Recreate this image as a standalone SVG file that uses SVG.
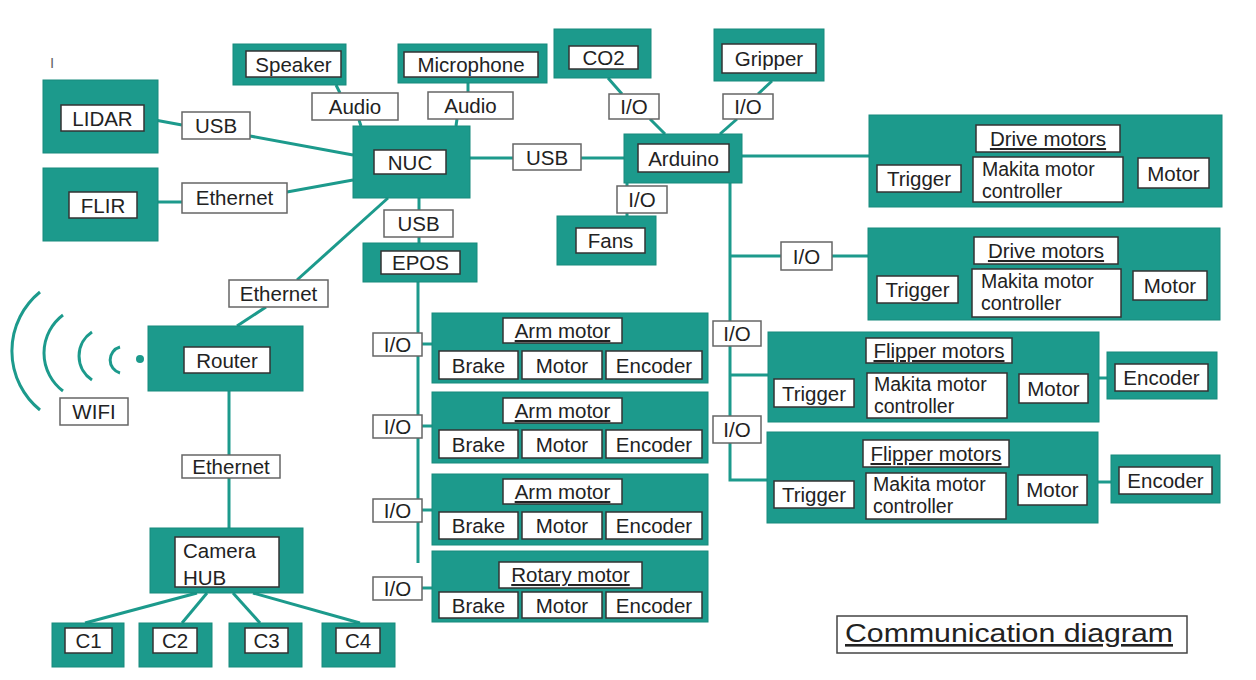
<svg xmlns="http://www.w3.org/2000/svg" width="1256" height="680" viewBox="0 0 1256 680">
<defs>
<style>
.t{fill:#1c9a8c;stroke:#178a7d;stroke-width:1}
.w{fill:#fff;stroke:#333;stroke-width:1.5}
.l{fill:#fff;stroke:#666;stroke-width:1.5}
text{font-family:"Liberation Sans",Arial,sans-serif;font-size:20.5px;fill:#222}
.m{text-anchor:middle}
.u{text-decoration:underline}
.k{font-size:19.5px}
.c line,.c polyline,.c path{stroke:#1c9a8c;stroke-width:3;fill:none}
</style>
</defs>
<rect width="1256" height="680" fill="#fff"/>
<text x="50" y="68" style="font-size:15px;fill:#666">I</text>

<g class="c" id="connectors">
<line x1="144" y1="118" x2="182" y2="125"/>
<line x1="250" y1="136" x2="353" y2="155"/>
<line x1="137" y1="202" x2="182" y2="202"/>
<line x1="287" y1="192" x2="353" y2="180"/>
<line x1="336" y1="85" x2="340" y2="93"/>
<line x1="359" y1="120" x2="361" y2="126"/>
<line x1="468" y1="83" x2="468" y2="92"/>
<line x1="457" y1="119" x2="456" y2="126"/>
<line x1="470" y1="158" x2="624" y2="158"/>
<line x1="608" y1="78" x2="622" y2="94"/>
<line x1="650" y1="119" x2="665" y2="134"/>
<line x1="772" y1="81" x2="758" y2="94"/>
<line x1="737" y1="119" x2="720" y2="134"/>
<line x1="627" y1="183" x2="627" y2="216"/>
<line x1="742" y1="156" x2="869" y2="156"/>
<polyline points="730,183 730,480 767,480"/>
<line x1="730" y1="256" x2="868" y2="256"/>
<line x1="730" y1="375" x2="768" y2="375"/>
<line x1="1088" y1="378" x2="1107" y2="378"/>
<line x1="1087" y1="482" x2="1111" y2="482"/>
<line x1="419" y1="198" x2="419" y2="243"/>
<line x1="418" y1="282" x2="418" y2="563"/>
<line x1="422" y1="344" x2="432" y2="344"/>
<line x1="422" y1="426" x2="432" y2="426"/>
<line x1="422" y1="510" x2="432" y2="510"/>
<line x1="422" y1="588" x2="432" y2="588"/>
<line x1="388" y1="198" x2="297" y2="280"/>
<line x1="266" y1="307" x2="237" y2="326"/>
<line x1="229" y1="391" x2="229" y2="528"/>
<line x1="197" y1="593" x2="85" y2="623"/>
<line x1="207" y1="593" x2="182" y2="623"/>
<line x1="233" y1="593" x2="260" y2="623"/>
<line x1="253" y1="593" x2="360" y2="623"/>
<path d="M120 347 A13.5 13.5 0 0 0 120 373"/>
<path d="M92 332 A28.7 28.7 0 0 0 92 380"/>
<path d="M63 315 A47.5 47.5 0 0 0 63 391"/>
<path d="M40 292 A76 76 0 0 0 40 410"/>
<circle cx="140" cy="359" r="4" fill="#1c9a8c"/>
</g>

<g id="labels">
<rect class="l" x="182" y="112" width="68" height="27"/><text class="m" x="216" y="133">USB</text>
<rect class="l" x="182" y="183" width="105" height="30"/><text class="m" x="234.5" y="205">Ethernet</text>
<rect class="l" x="312" y="93" width="86" height="27"/><text class="m" x="355" y="114">Audio</text>
<rect class="l" x="428" y="92" width="85" height="27"/><text class="m" x="470.5" y="113">Audio</text>
<rect class="l" x="384" y="210" width="69" height="27"/><text class="m" x="418.5" y="231">USB</text>
<rect class="l" x="513" y="144" width="68" height="26"/><text class="m" x="547" y="165">USB</text>
<rect class="l" x="609" y="94" width="50" height="25"/><text class="m" x="634" y="114">I/O</text>
<rect class="l" x="723" y="94" width="50" height="25"/><text class="m" x="748" y="114">I/O</text>
<rect class="l" x="617" y="186" width="50" height="27"/><text class="m" x="642" y="207">I/O</text>
<rect class="l" x="781" y="242" width="51" height="28"/><text class="m" x="806.5" y="264">I/O</text>
<rect class="l" x="229" y="280" width="99" height="27"/><text class="m" x="278.5" y="301">Ethernet</text>
<rect class="l" x="60" y="398" width="68" height="27"/><text class="m" x="94" y="419">WIFI</text>
<rect class="l" x="182" y="455" width="98" height="23"/><text class="m" x="231" y="474">Ethernet</text>
<rect class="l" x="713" y="321" width="48" height="25"/><text class="m" x="737" y="341">I/O</text>
<rect class="l" x="713" y="416" width="48" height="27"/><text class="m" x="737" y="437">I/O</text>
<rect class="l" x="373" y="333" width="49" height="23"/><text class="m" x="397.5" y="352">I/O</text>
<rect class="l" x="373" y="415" width="49" height="23"/><text class="m" x="397.5" y="434">I/O</text>
<rect class="l" x="373" y="499" width="49" height="23"/><text class="m" x="397.5" y="518">I/O</text>
<rect class="l" x="373" y="577" width="49" height="23"/><text class="m" x="397.5" y="596">I/O</text>
</g>

<g id="lidar"><rect class="t" x="43" y="80" width="115" height="73"/><rect class="w" x="61" y="105" width="83" height="26"/><text class="m" x="102.5" y="126">LIDAR</text></g>
<g id="flir"><rect class="t" x="43" y="168" width="115" height="73"/><rect class="w" x="69" y="192" width="68" height="26"/><text class="m" x="103" y="213">FLIR</text></g>
<g id="speaker"><rect class="t" x="233" y="44" width="113" height="41"/><rect class="w" x="246" y="51" width="95" height="26"/><text class="m" x="293.5" y="72">Speaker</text></g>
<g id="microphone"><rect class="t" x="398" y="44" width="149" height="39"/><rect class="w" x="404" y="52" width="134" height="25"/><text class="m" x="471" y="72">Microphone</text></g>
<g id="co2"><rect class="t" x="554" y="29" width="97" height="49"/><rect class="w" x="569" y="46" width="69" height="23"/><text class="m" x="603.5" y="65">CO2</text></g>
<g id="gripper"><rect class="t" x="714" y="29" width="110" height="52"/><rect class="w" x="722" y="44" width="94" height="29"/><text class="m" x="769" y="66">Gripper</text></g>
<g id="nuc"><rect class="t" x="353" y="126" width="117" height="72"/><rect class="w" x="374" y="150" width="72" height="24"/><text class="m" x="410" y="170">NUC</text></g>
<g id="arduino"><rect class="t" x="624" y="134" width="118" height="49"/><rect class="w" x="638" y="144" width="91" height="28"/><text class="m" x="683.5" y="166">Arduino</text></g>
<g id="fans"><rect class="t" x="557" y="216" width="99" height="49"/><rect class="w" x="576" y="228" width="69" height="25"/><text class="m" x="610.5" y="248">Fans</text></g>
<g id="epos"><rect class="t" x="363" y="243" width="114" height="39"/><rect class="w" x="381" y="251" width="79" height="23"/><text class="m" x="420.5" y="270">EPOS</text></g>
<g id="router"><rect class="t" x="148" y="326" width="155" height="65"/><rect class="w" x="184" y="347" width="86" height="26"/><text class="m" x="227" y="368">Router</text></g>
<g id="camerahub"><rect class="t" x="150" y="528" width="153" height="65"/><rect class="w" x="175" y="537" width="104" height="50"/><text x="183" y="558">Camera</text><text x="183" y="585">HUB</text></g>
<g id="c1"><rect class="t" x="52" y="623" width="72" height="44"/><rect class="w" x="65" y="628" width="47" height="25"/><text class="m" x="88.5" y="648">C1</text></g>
<g id="c2"><rect class="t" x="139" y="623" width="73" height="44"/><rect class="w" x="153" y="628" width="44" height="25"/><text class="m" x="175" y="648">C2</text></g>
<g id="c3"><rect class="t" x="229" y="623" width="73" height="44"/><rect class="w" x="245" y="628" width="43" height="25"/><text class="m" x="266.5" y="648">C3</text></g>
<g id="c4"><rect class="t" x="322" y="623" width="73" height="44"/><rect class="w" x="336" y="628" width="44" height="25"/><text class="m" x="358" y="648">C4</text></g>

<g id="drive1"><rect class="t" x="869" y="115" width="353" height="92"/>
<rect class="w" x="976" y="125" width="144" height="27"/><text class="m u" x="1048" y="146">Drive motors</text>
<rect class="w" x="877" y="165" width="84" height="27"/><text class="m" x="919" y="186">Trigger</text>
<rect class="w" x="973" y="157" width="150" height="45"/><text class="k" x="982" y="176">Makita motor</text><text class="k" x="982" y="198">controller</text>
<rect class="w" x="1138" y="158" width="71" height="30"/><text class="m" x="1173.5" y="181">Motor</text></g>

<g id="drive2"><rect class="t" x="868" y="228" width="352" height="92"/>
<rect class="w" x="974" y="237" width="144" height="27"/><text class="m u" x="1046" y="258">Drive motors</text>
<rect class="w" x="877" y="276" width="81" height="27"/><text class="m" x="917.5" y="297">Trigger</text>
<rect class="w" x="972" y="269" width="149" height="48"/><text class="k" x="981" y="288">Makita motor</text><text class="k" x="981" y="310">controller</text>
<rect class="w" x="1133" y="271" width="74" height="29"/><text class="m" x="1170" y="293">Motor</text></g>

<g id="flipper1"><rect class="t" x="768" y="332" width="331" height="90"/>
<rect class="w" x="866" y="338" width="146" height="25"/><text class="m u" x="939" y="358">Flipper motors</text>
<rect class="w" x="774" y="379" width="80" height="28"/><text class="m" x="814" y="401">Trigger</text>
<rect class="w" x="867" y="373" width="140" height="45"/><text class="k" x="874" y="391">Makita motor</text><text class="k" x="874" y="413">controller</text>
<rect class="w" x="1019" y="374" width="69" height="29"/><text class="m" x="1053.5" y="396">Motor</text></g>
<g id="encoder1"><rect class="t" x="1107" y="352" width="110" height="47"/><rect class="w" x="1115" y="364" width="93" height="27"/><text class="m" x="1161.5" y="385">Encoder</text></g>

<g id="flipper2"><rect class="t" x="767" y="432" width="331" height="91"/>
<rect class="w" x="863" y="440" width="146" height="27"/><text class="m u" x="936" y="461">Flipper motors</text>
<rect class="w" x="774" y="481" width="80" height="27"/><text class="m" x="814" y="502">Trigger</text>
<rect class="w" x="866" y="473" width="140" height="46"/><text class="k" x="873" y="491">Makita motor</text><text class="k" x="873" y="513">controller</text>
<rect class="w" x="1018" y="475" width="69" height="30"/><text class="m" x="1052.5" y="497">Motor</text></g>
<g id="encoder2"><rect class="t" x="1111" y="455" width="109" height="48"/><rect class="w" x="1119" y="467" width="93" height="27"/><text class="m" x="1165.5" y="488">Encoder</text></g>

<g id="arm1"><rect class="t" x="432" y="313" width="276" height="70"/>
<rect class="w" x="503" y="318" width="119" height="25"/><text class="m u" x="562.5" y="338">Arm motor</text>
<rect class="w" x="439" y="351" width="79" height="28"/><text class="m" x="478.5" y="373">Brake</text>
<rect class="w" x="522" y="351" width="80" height="28"/><text class="m" x="562" y="373">Motor</text>
<rect class="w" x="606" y="351" width="96" height="28"/><text class="m" x="654" y="373">Encoder</text></g>
<g id="arm2"><rect class="t" x="432" y="392" width="276" height="71"/>
<rect class="w" x="503" y="398" width="119" height="25"/><text class="m u" x="562.5" y="418">Arm motor</text>
<rect class="w" x="439" y="430" width="79" height="28"/><text class="m" x="478.5" y="452">Brake</text>
<rect class="w" x="522" y="430" width="80" height="28"/><text class="m" x="562" y="452">Motor</text>
<rect class="w" x="606" y="430" width="96" height="28"/><text class="m" x="654" y="452">Encoder</text></g>
<g id="arm3"><rect class="t" x="432" y="474" width="276" height="71"/>
<rect class="w" x="503" y="479" width="119" height="25"/><text class="m u" x="562.5" y="499">Arm motor</text>
<rect class="w" x="439" y="512" width="79" height="27"/><text class="m" x="478.5" y="533">Brake</text>
<rect class="w" x="522" y="512" width="80" height="27"/><text class="m" x="562" y="533">Motor</text>
<rect class="w" x="606" y="512" width="96" height="27"/><text class="m" x="654" y="533">Encoder</text></g>
<g id="rotary"><rect class="t" x="432" y="551" width="276" height="71"/>
<rect class="w" x="499" y="562" width="143" height="26"/><text class="m u" x="570.5" y="582">Rotary motor</text>
<rect class="w" x="439" y="592" width="79" height="26"/><text class="m" x="478.5" y="613">Brake</text>
<rect class="w" x="522" y="592" width="80" height="26"/><text class="m" x="562" y="613">Motor</text>
<rect class="w" x="606" y="592" width="96" height="26"/><text class="m" x="654" y="613">Encoder</text></g>

<g id="title"><rect x="837" y="616" width="350" height="37" fill="#fff" stroke="#444" stroke-width="1.5"/>
<text class="u" x="845" y="642" style="font-size:26px" textLength="328" lengthAdjust="spacingAndGlyphs">Communication diagram</text></g>
</svg>
